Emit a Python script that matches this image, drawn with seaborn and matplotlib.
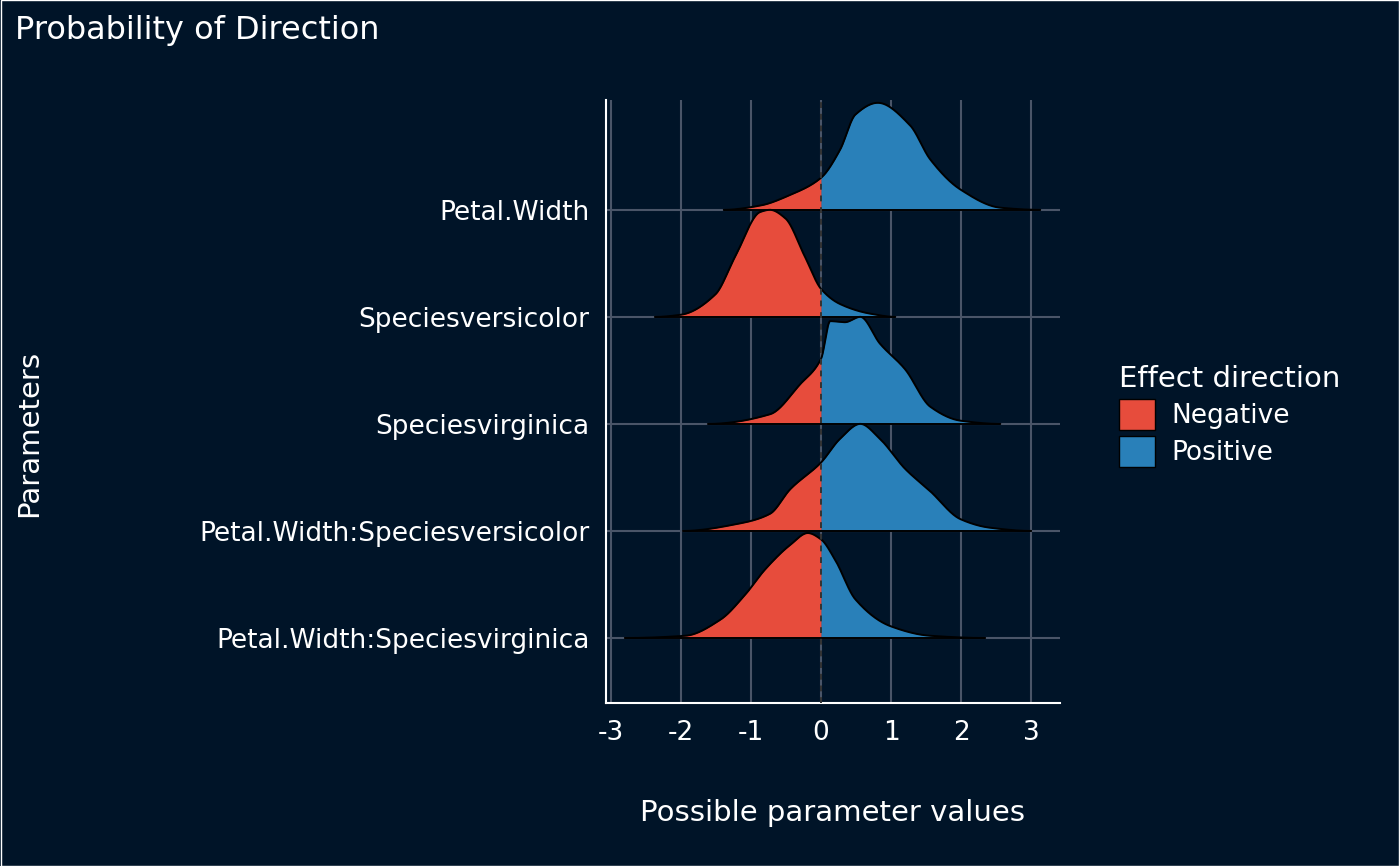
import numpy as np
import matplotlib
matplotlib.use("Agg")
import matplotlib.pyplot as plt
import seaborn as sns
from matplotlib.patches import Patch, Rectangle

params = ["Petal.Width", "Speciesversicolor", "Speciesvirginica",
          "Petal.Width:Speciesversicolor", "Petal.Width:Speciesvirginica"]
x_pw = [-1.39, -0.87, -0.44, 0.0, 0.27, 0.49, 0.81, 1.27, 1.56, 1.99, 2.56, 3.13]
d_pw = [0.0, 0.04, 0.14, 0.30, 0.56, 0.89, 1.0, 0.79, 0.47, 0.19, 0.02, 0.0]
x_sve = [-2.37, -2.0, -1.51, -1.23, -0.87, -0.73, -0.51, -0.23, 0.0, 0.27, 0.7, 1.06]
d_sve = [0.0, 0.02, 0.21, 0.56, 0.98, 1.0, 0.92, 0.56, 0.26, 0.12, 0.03, 0.0]
x_svi = [-1.61, -0.73, -0.3, 0.0, 0.13, 0.34, 0.56, 0.84, 1.2, 1.56, 1.99, 2.56]
d_svi = [0.0, 0.09, 0.37, 0.61, 0.96, 0.95, 1.0, 0.75, 0.51, 0.16, 0.03, 0.0]
x_pwve = [-1.97, -1.16, -0.73, -0.44, 0.0, 0.27, 0.56, 0.84, 1.2, 1.56, 1.99, 2.41, 3.0]
d_pwve = [0.0, 0.07, 0.16, 0.39, 0.64, 0.86, 1.0, 0.86, 0.58, 0.37, 0.11, 0.03, 0.0]
x_pwvi = [-2.8, -1.94, -1.44, -1.09, -0.8, -0.44, -0.19, 0.0, 0.2, 0.49, 0.99, 1.56, 2.34]
d_pwvi = [0.0, 0.02, 0.17, 0.40, 0.64, 0.87, 0.98, 0.92, 0.73, 0.36, 0.11, 0.02, 0.0]
xs = [x_pw, x_sve, x_svi, x_pwve, x_pwvi]
ds = [d_pw, d_sve, d_svi, d_pwve, d_pwvi]


def pchip(x, y, g):
    x = np.asarray(x, float); y = np.asarray(y, float)
    h = np.diff(x); dl = np.diff(y) / h
    m = np.zeros_like(y)
    for k in range(1, len(x) - 1):
        if dl[k - 1] * dl[k] > 0:
            w1 = 2 * h[k] + h[k - 1]; w2 = h[k] + 2 * h[k - 1]
            m[k] = (w1 + w2) / (w1 / dl[k - 1] + w2 / dl[k])
    idx = np.clip(np.searchsorted(x, g) - 1, 0, len(x) - 2)
    t = (g - x[idx]) / h[idx]
    h00 = 2 * t**3 - 3 * t**2 + 1; h10 = t**3 - 2 * t**2 + t
    h01 = -2 * t**3 + 3 * t**2; h11 = t**3 - t**2
    return np.maximum(h00 * y[idx] + h10 * h[idx] * m[idx] + h01 * y[idx + 1] + h11 * h[idx] * m[idx + 1], 0)


bg = "#001428"
red, blue = "#E74C3C", "#2980B9"
sns.set_theme(style="dark")
plt.rcParams['font.family'] = ['DejaVu Sans']

fig = plt.figure(figsize=(14, 8.66), dpi=100, facecolor=bg)
fig.patches.append(Rectangle((0.0005, 0.0005), 0.999, 0.999, transform=fig.transFigure,
                             fill=False, edgecolor="white", lw=1))
ax = fig.add_axes([0.433, 0.188, 0.324, 0.697])
ax.set_facecolor(bg)
ax.set_xlim(-3.07, 3.41)
ax.set_ylim(-0.61, 5.03)
for v in range(-3, 4):
    ax.axvline(v, color="#4a5568", lw=1.5, zorder=0)
n = len(params)
for i, (p, x, d) in enumerate(zip(params, xs, ds)):
    base = n - 1 - i
    ax.axhline(base, color="#4a5568", lw=1.5, zorder=0)
    g = np.linspace(min(x), max(x), 800)
    g = np.sort(np.append(g, 0.0))
    h = pchip(x, d, g)
    ax.fill_between(g, base, base + h, where=g <= 0, color=red, zorder=2 + i, lw=0)
    ax.fill_between(g, base, base + h, where=g >= 0, color=blue, zorder=2 + i, lw=0)
    ax.plot(g, base + h, color="black", lw=1.4, zorder=2 + i)
    ax.plot([min(x), max(x)], [base, base], color="black", lw=1.4, zorder=2 + i)
ax.axvline(0, color="#333333", ls=(0, (3, 3)), lw=1.4, zorder=20)

ax.set_yticks(range(n))
ax.set_yticklabels(params[::-1])
ax.set_xticks(range(-3, 4))
ax.set_xticklabels([str(v) for v in range(-3, 4)])
ax.tick_params(colors="white", labelsize=19, length=0, pad=12)
for s in ["top", "right"]:
    ax.spines[s].set_visible(False)
for s in ["left", "bottom"]:
    ax.spines[s].set_color("white")
    ax.spines[s].set_linewidth(1.5)
ax.set_xlabel("Possible parameter values", color="white", fontsize=21, labelpad=38)
fig.text(0.021, 0.50, "Parameters", color="white", fontsize=21, rotation=90,
         va="center", ha="center")
fig.text(0.011, 0.965, "Probability of Direction", color="white", fontsize=23, va="center")
leg = fig.legend(handles=[Patch(facecolor=red, edgecolor="black", label="Negative"),
                          Patch(facecolor=blue, edgecolor="black", label="Positive")],
                 title="Effect direction", loc="center left", bbox_to_anchor=(0.782, 0.52),
                 frameon=False, fontsize=19, title_fontsize=21, handlelength=1.4,
                 handleheight=1.4, handletextpad=0.6, labelspacing=0.25, labelcolor="white")
leg.get_title().set_color("white")
leg._legend_box.align = "left"
fig.savefig("out.png", facecolor=bg)
